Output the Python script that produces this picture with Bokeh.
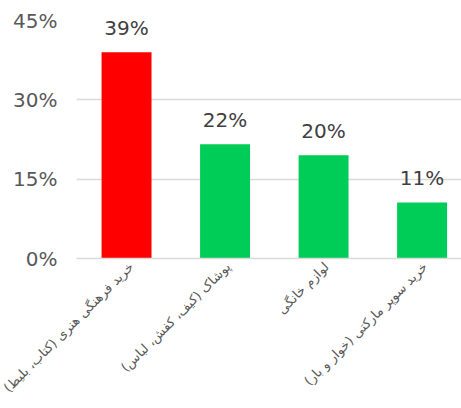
import math
from bokeh.plotting import figure
from bokeh.models import Range1d, FixedTicker, ColumnDataSource, LabelSet
from bokeh.core.properties import value
from bokeh.embed import file_html
from bokeh.resources import INLINE

categories = [
    "خرید فرهنگی هنری (کتاب، بلیط)",
    "پوشاک (کیف، کفش، لباس)",
    "لوازم خانگی",
    "خرید سوپر مارکتی (خوار و بار)",
]
values = [39.0, 21.6, 19.5, 10.6]
bar_colors = ["#ff0000", "#00cc58", "#00cc58", "#00cc58"]
y_ticks = [0, 15, 30, 45]
y_tick_labels = ["0%", "15%", "30%", "45%"]

FONT = "DejaVu Sans"
LABEL_SHIFT = 0.03  # horizontal nudge of rotated category labels (axis units)

xs = list(range(len(categories)))
value_labels = [f"{math.floor(v + 0.5)}%" for v in values]

src = ColumnDataSource(dict(x=xs, top=values, color=bar_colors,
                            vlab=value_labels))

p = figure(width=461, height=408, output_backend="svg", toolbar_location=None,
           x_range=Range1d(-0.508, 3.40), y_range=Range1d(0, 45),
           min_border_left=76, min_border_right=0, min_border_top=20,
           min_border_bottom=150)
p.outline_line_color = None
p.background_fill_color = "white"
p.border_fill_color = "white"

p.vbar(x="x", top="top", bottom=0, width=0.507, fill_color="color",
       line_color=None, source=src)

# y axis
p.yaxis.ticker = FixedTicker(ticks=y_ticks)
p.yaxis.major_label_overrides = {t: l for t, l in zip(y_ticks, y_tick_labels)}
p.yaxis.axis_line_color = None
p.yaxis.major_tick_line_color = None
p.yaxis.minor_tick_line_color = None
p.yaxis.major_tick_in = 0
p.yaxis.major_tick_out = 0
p.yaxis.major_label_standoff = 19
p.yaxis.major_label_text_font = FONT
p.yaxis.major_label_text_font_size = "20px"
p.yaxis.major_label_text_color = "#595959"

# x axis with rotated category labels
x_ticks = [x + LABEL_SHIFT for x in xs]
p.xaxis.ticker = FixedTicker(ticks=x_ticks)
p.xaxis.major_label_overrides = {t: c for t, c in zip(x_ticks, categories)}
p.xaxis.major_label_orientation = math.pi / 4
p.xaxis.axis_line_color = "#d9d9d9"
p.xaxis.axis_line_width = 1.5
p.xaxis.major_tick_line_color = None
p.xaxis.minor_tick_line_color = None
p.xaxis.major_tick_in = 0
p.xaxis.major_tick_out = 0
p.xaxis.major_label_standoff = 6
p.xaxis.major_label_text_font = FONT
p.xaxis.major_label_text_font_size = "13px"
p.xaxis.major_label_text_color = "#595959"

p.xgrid.grid_line_color = None
p.ygrid.ticker = FixedTicker(ticks=y_ticks)
p.ygrid.grid_line_color = "#d9d9d9"
p.ygrid.grid_line_width = 1.5

# value labels
p.add_layout(LabelSet(x="x", y="top", text="vlab", source=src,
                      text_align="center", text_baseline="alphabetic",
                      y_offset=17, text_font=value(FONT),
                      text_font_size=value("20px"),
                      text_color="#404040"))

open("out.html", "w").write(file_html(p, INLINE))
